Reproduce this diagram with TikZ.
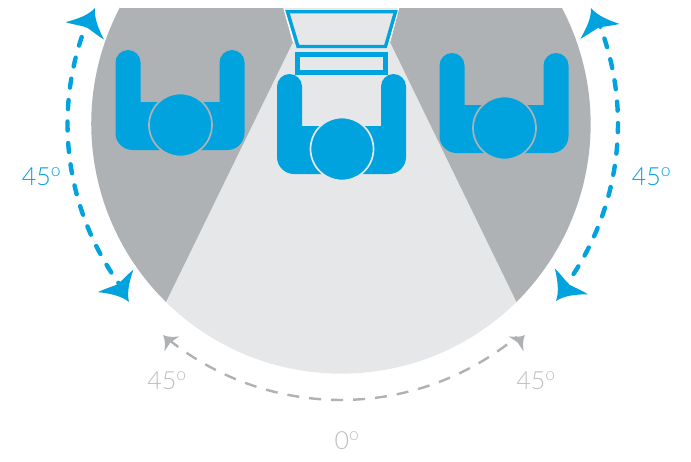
\documentclass[tikz,border=0pt]{standalone}
\usepackage{fontspec}
\setmainfont{Open Sans}
\newfontfamily\thinfont{Lato Light}
\usetikzlibrary{positioning, calc}
\definecolor{blue1}{RGB}{0, 163, 222}
\definecolor{grey1}{RGB}{174, 178, 180}
\definecolor{grey2}{RGB}{230, 231, 233}
\definecolor{grey3}{RGB}{188, 190, 192}
\tikzset{
  anglelabel/.style={inner sep=0pt, font=\fontsize{25}{25}\thinfont},
  bluearc/.style={draw=blue1, line width=4.4pt, line cap=round, dash pattern=on 9pt off 12.5pt, dash phase=5.5pt},
  greyarc/.style={draw=grey1, line width=2.4pt, dash pattern=on 12pt off 10pt},
  pics/sweeptip/.style={code={
    \fill[#1] (0,0) .. controls (-9,3) and (-17,11) .. (-25,21) .. controls (-24,13) and (-22,6) .. (-21,0)
      .. controls (-22,-6) and (-24,-13) .. (-25,-21) .. controls (-17,-11) and (-9,-3) .. (0,0) -- cycle;
  }},
  pics/person/.style={code={
    \fill[blue1] (-64.5,-62.5) arc[start angle=180, end angle=360, radius=12.5] -- (-39.5,-23) -- (39.5,-23)
      -- (39.5,-62.5) arc[start angle=180, end angle=360, radius=12.5]
      [rounded corners=17pt] -- (64.5,25) -- (-64.5,25) [sharp corners] -- cycle;
    \draw[#1, fill=blue1, line width=1.7pt] (0.5,0) circle[radius=31.5];
  }}
}
\begin{document}
\begin{tikzpicture}[x=1pt, y=-1pt]
  \useasboundingbox (0,0) rectangle (691,461);
  \coordinate (centre) at (341,124);
  \coordinate (centreright) at (342.5,124);
  \fill[grey2] (284,8) -- (293,42) -- (166,302) arc[start angle=134.5, end angle=45.3, radius=250] -- (390,42) -- (398,8) -- cycle;
  \fill[grey1] (120,8) -- (284,8) -- (293,42) -- (166,302) arc[start angle=134.5, end angle=207.7, radius=250] -- cycle;
  \fill[grey1] (562,8) arc[start angle=-27.7, end angle=45.3, radius=250] -- (390,42) -- (398,8) -- cycle;
  \draw[white, line width=1.5pt] (284,8) -- (293.5,42) (398.5,8) -- (389.5,42);
  \draw[blue1, fill=grey2, line width=3.4pt, line join=miter] (287.5,11.7) -- (395.5,11.7) -- (385.5,46.5) -- (298,46.5) -- cycle;
  \draw[blue1, fill=grey2, line width=4.6pt] (297.5,54.5) rectangle (385.5,72.5);
  \pic at (180,125) {person=grey1};
  \pic at (341.5,149) {person=grey2};
  \pic at (504,128) {person=grey1};
  \draw[bluearc] ($(centre)+(201.9:273.5)$) arc[start angle=201.9, end angle=143.4, radius=273.5];
  \draw[bluearc] ($(centreright)+(-21.4:275.5)$) arc[start angle=-21.4, end angle=36.2, radius=275.5];
  \draw[greyarc] ($(centre)+(128.6:276)$) arc[start angle=128.6, end angle=50.4, radius=276];
  \pic[rotate=65.7] at (95,8) {sweeptip=blue1};
  \pic[rotate=-57.7] at (129,302) {sweeptip=blue1};
  \pic[rotate=110.9] at (591,8) {sweeptip=blue1};
  \pic[rotate=232] at (556,301) {sweeptip=blue1};
  \pic[rotate=135, scale=0.5] at (163,335) {sweeptip=grey1};
  \pic[rotate=45, scale=0.5] at (525,335) {sweeptip=grey1};
  \node[anglelabel, text=blue1] (bluea) at (41.5,176.5) {45\textsuperscript{o}};
  \node[anglelabel, text=blue1] (blueb) at (651.5,176.5) {45\textsuperscript{o}};
  \node[anglelabel, text=grey3] (greya) at (167,380.5) {45\textsuperscript{o}};
  \node[anglelabel, text=grey3] (greyb) at (536,380.5) {45\textsuperscript{o}};
  \node[anglelabel, text=grey3] (greyc) at (347,440.5) {0\textsuperscript{o}};
\end{tikzpicture}
\end{document}
